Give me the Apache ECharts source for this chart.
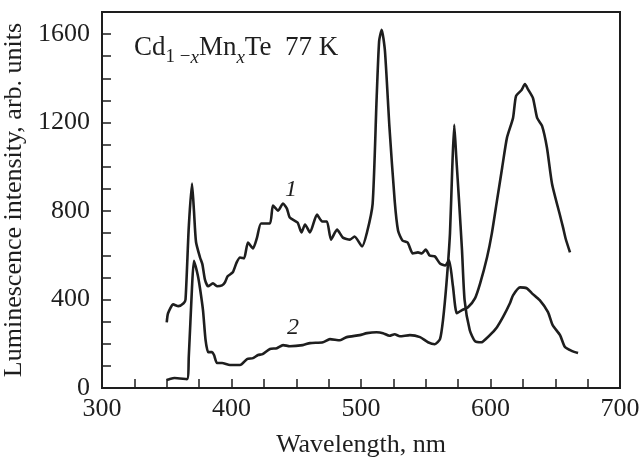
<!DOCTYPE html>
<html>
<head>
<meta charset="utf-8">
<script src="https://cdn.jsdelivr.net/npm/echarts@6/dist/echarts.min.js"></script>
<style>
  html, body { margin: 0; padding: 0; background: #fff; }
  #main { width: 644px; height: 460px; }
</style>
</head>
<body>
<div id="main"></div>
<script>
// curve 1 (upper)
var wl1 = [350, 351, 355, 359, 363, 364.5, 367, 369.5, 371, 372.6, 375.7, 377.5, 379.5, 382, 385.7, 388.8, 392.7, 395, 397, 401,
  404, 406.6, 409.7, 412.7, 416.6, 419.7, 422.8, 429.7, 432, 436, 439.8, 442.8, 445, 451, 454, 456.8, 460.6, 466, 470, 473.7,
  476.8, 481.5, 486, 491.5, 495, 500.8, 504.6, 509, 512, 514, 516, 518.5, 522, 526, 528.6, 532, 536, 540, 544, 547,
  550, 553, 557, 561, 565, 568, 571, 574, 578, 582.6, 588, 592, 597.3, 601, 605, 609, 612.7, 617.4, 619.7, 624,
  626.6, 629, 632.8, 636, 639.8, 643.6, 647.5, 653.7, 656, 658, 661.4];
var int1 = [297, 338, 378, 370, 383, 400, 726, 924, 802, 660, 590, 560, 490, 460, 473, 460, 464, 478, 505, 523,
  568, 590, 586, 658, 631, 680, 744, 744, 825, 802, 834, 811, 771, 748, 703, 739, 703, 784, 753, 753,
  671, 716, 680, 671, 685, 640, 703, 834, 1298, 1568, 1620, 1523, 1176, 847, 712, 667, 658, 608, 613, 608,
  626, 599, 595, 563, 554, 577, 460, 338, 352, 365, 405, 473, 590, 698, 847, 996, 1131, 1221, 1320, 1347,
  1374, 1350, 1311, 1221, 1185, 1086, 924, 780, 726, 676, 613];

// curve 2 (lower)
var wl2 = [350, 352, 356, 365.6, 367, 369.5, 371, 374, 375.7, 378, 380, 382, 385, 386.5, 388.8, 392.7, 398.8, 406.6, 412, 416.6,
  420.5, 424, 429.7, 435, 439.8, 445, 455, 460.6, 470.6, 476, 483.8, 489, 499, 504.6, 512, 517, 522, 526, 530, 537.8,
  545.6, 551.7, 557, 561, 563.3, 566, 568.7, 570.5, 572, 573.5, 575.7, 578, 580, 584, 588, 593, 597, 601, 605, 609.6,
  615, 617.4, 622.8, 628, 632, 638, 644.4, 648, 653.7, 657.5, 663, 667.6];
var int2 = [36, 40, 45, 40, 140, 455, 575, 509, 450, 351, 216, 162, 162, 149, 113, 113, 104, 104, 131, 135,
  149, 153, 176, 180, 194, 189, 194, 203, 207, 221, 216, 230, 239, 248, 252, 248, 236, 243, 234, 239,
  230, 207, 198, 221, 306, 473, 698, 1000, 1190, 1050, 847, 622, 397, 261, 212, 207, 225, 248, 275, 320,
  383, 419, 455, 451, 428, 397, 343, 284, 239, 185, 167, 158];

var xTicks = [300, 400, 500, 600, 700];
var yTicks = [0, 400, 800, 1200, 1600];

function pairs(xs, ys) {
  var out = [];
  for (var i = 0; i < xs.length; i++) out.push([xs[i], ys[i]]);
  return out;
}

var font = "Liberation Serif";
var ink = "#1e1e1e";

var myChart = echarts.init(document.getElementById("main"));
var option = {
  animation: false,
  grid: {
    left: 102, right: 24, top: 12, bottom: 72,
    containLabel: false, outerBoundsMode: "none",
    show: true, borderColor: ink, borderWidth: 2, backgroundColor: "transparent"
  },
  xAxis: {
    type: "value", min: 300, max: 700, interval: 25,
    name: "Wavelength, nm", nameLocation: "middle", nameGap: 44,
    nameTextStyle: { fontFamily: font, fontSize: 26, color: ink },
    axisLine: { lineStyle: { color: ink, width: 2 } },
    axisTick: { inside: true, length: 9, lineStyle: { color: ink, width: 1.5 } },
    axisLabel: {
      margin: 8, fontFamily: font, fontSize: 26, color: ink,
      formatter: function (v) { return xTicks.indexOf(v) >= 0 ? String(v) : ""; }
    },
    splitLine: { show: false }
  },
  yAxis: {
    type: "value", min: 0, max: 1700, interval: 100,
    name: "Luminescence intensity, arb. units", nameLocation: "middle", nameGap: 70, nameRotate: 90,
    nameTextStyle: { fontFamily: font, fontSize: 26, color: ink },
    axisLine: { show: true, lineStyle: { color: ink, width: 2 } },
    axisTick: { show: true, inside: true, length: 9, lineStyle: { color: ink, width: 1.5 } },
    axisLabel: {
      margin: 12, fontFamily: font, fontSize: 26, color: ink,
      formatter: function (v) { return yTicks.indexOf(v) >= 0 ? String(v) : ""; }
    },
    splitLine: { show: false }
  },
  graphic: [
    {
      type: "text", left: 134, top: 34,
      style: {
        text: "{m|Cd}{s|1 −}{si|x}{m|Mn}{si|x}{m|Te  77 K}",
        fill: ink,
        rich: {
          m: { fontFamily: font, fontSize: 27, lineHeight: 30, padding: [0, 0, 6, 0], verticalAlign: "bottom", fill: ink },
          s: { fontFamily: font, fontSize: 19, lineHeight: 14, verticalAlign: "bottom", fill: ink },
          si: { fontFamily: font, fontSize: 19, fontStyle: "italic", lineHeight: 14, verticalAlign: "bottom", fill: ink }
        }
      }
    },
    {
      type: "text", left: 285, top: 178,
      style: { text: "1", fontFamily: font, fontSize: 24, fontStyle: "italic", fill: ink }
    },
    {
      type: "text", left: 287, top: 316,
      style: { text: "2", fontFamily: font, fontSize: 24, fontStyle: "italic", fill: ink }
    }
  ],
  series: [
    {
      type: "line", data: pairs(wl1, int1), showSymbol: false, smooth: 0.2,
      lineStyle: { color: ink, width: 2.6 }
    },
    {
      type: "line", data: pairs(wl2, int2), showSymbol: false, smooth: 0.2,
      lineStyle: { color: ink, width: 2.6 }
    }
  ]
};
myChart.setOption(option);
</script>
</body>
</html>
